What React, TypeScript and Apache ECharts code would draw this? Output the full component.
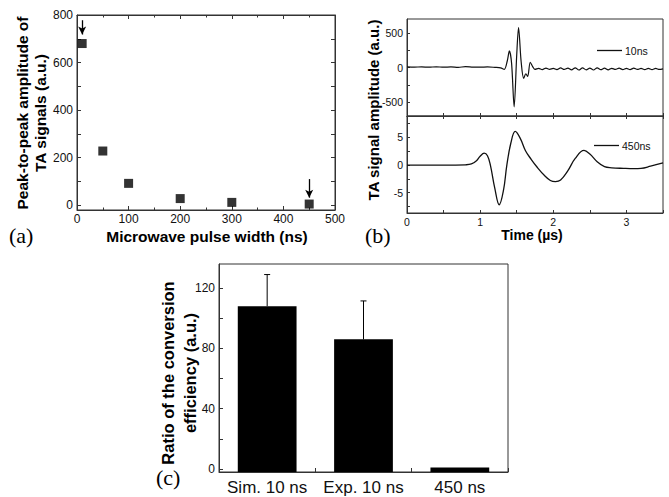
import React, { useEffect, useRef } from 'react';
import * as echarts from 'echarts';

// Panel (a)
const pulseWidths = [10, 50, 100, 200, 300, 450];
const peakAmplitudes = [680, 228, 92, 28, 12, 5];
const arrowX = [10, 450];
const arrowTop = [778, 110];
const arrowBottom = [718, 32];
const aXLabels = [0, 100, 200, 300, 400, 500];
const aYLabels = [0, 200, 400, 600, 800];
const aYTicks = [0, 100, 200, 300, 400, 500, 600, 700, 800];

// Panel (b)
const time10 = [
  0, 0.1, 0.2, 0.3, 0.4, 0.5, 0.6, 0.7, 0.8, 0.9, 1.0, 1.1, 1.2, 1.28, 1.33, 1.37, 1.4, 1.43, 1.465,
  1.5, 1.525, 1.56, 1.595, 1.625, 1.65, 1.685, 1.72, 1.75, 1.8, 1.85, 1.9, 1.95, 2.0, 2.05, 2.1, 2.15,
  2.2, 2.25, 2.3, 2.35, 2.4, 2.45, 2.5, 2.55, 2.6, 2.65, 2.7, 2.75, 2.8, 2.85, 2.9, 2.95, 3.0, 3.05,
  3.1, 3.15, 3.2, 3.25, 3.3, 3.35, 3.4, 3.45, 3.5,
];
const amp10 = [
  10, 6, 9, 4, 10, 5, 8, 3, 12, 6, 4, 8, 2, -5, -28, 90, 240, 60, -567,
  180, 576, 90, -157, -90, -130, 76, 10, -28, -12, -30, -8, -26, -14, -30, -6, -28,
  -8, -34, -4, -36, -6, -34, -8, -36, -4, -32, -10, -34, -12, -28, -10, -30, -14, -30,
  -10, -28, -14, -30, -12, -30, -14, -28, -20,
];
const time450 = [
  0, 0.5, 0.8, 0.88, 0.95, 1.0, 1.055, 1.1, 1.14, 1.2, 1.26, 1.32, 1.365, 1.42, 1.48, 1.55, 1.62, 1.7,
  1.78, 1.88, 1.96, 2.03, 2.1, 2.2, 2.3, 2.42, 2.5, 2.6, 2.7, 2.8, 2.96, 3.1, 3.2, 3.33, 3.5,
];
const amp450 = [
  0, 0, 0.05, 0.2, 0.8, 1.6, 2.15, 1.7, 0, -4.2, -7.2, -4.5, 0, 4.0, 6.1, 4.8, 2.6, 1.0,
  -0.4, -1.9, -2.8, -3.0, -2.7, -1.0, 1.2, 2.65, 2.0, 0.6, -0.3, -0.5, -0.6, -0.65, -0.6, -0.2, 0.4,
];
const bTopLabels = [-500, 0, 500];
const bTopTicks = [-500, -250, 0, 250, 500];
const bBotLabels = [-5, 0, 5];
const bBotTicks = [-7.5, -5, -2.5, 0, 2.5, 5, 7.5];

// Panel (c)
const categories = ['Sim. 10 ns', 'Exp. 10 ns', '450 ns'];
const ratios = [108, 86, 1];
const ratioErrors = [21, 25.5, 0];
const cYLabels = [0, 40, 80, 120];
const cYTicks = [0, 20, 40, 60, 80, 100, 120];

const SANS = '"Liberation Sans", Arial, Helvetica, sans-serif';
const SERIF = '"Liberation Serif", "Times New Roman", serif';
const INK = '#111';
const FRAME = '#333';

export default function App() {
  const ref = useRef<HTMLDivElement>(null);

  useEffect(() => {
    if (!ref.current) return;
    const chart = echarts.init(ref.current, undefined, { renderer: 'svg' });

    const lineStyle = { color: FRAME, width: 1 };
    const tickIn = (len: number, extra: any = {}) => ({ show: true, inside: true, length: len, lineStyle, ...extra });
    const valueX = (gridIndex: number, min: number, max: number, interval: number, position: string, labels: any, extra: any = {}) => ({
      type: 'value', gridIndex, min, max, interval, position,
      axisLine: { show: true, onZero: false, lineStyle },
      splitLine: { show: false },
      axisTick: tickIn(4),
      axisLabel: labels,
      ...extra,
    });

    const legendCommon = {
      padding: 0, itemWidth: 25, itemHeight: 1.3, itemGap: 0, icon: 'rect',
      itemStyle: { color: '#111' },
      textStyle: { fontSize: 10.5, color: INK, fontFamily: SANS, padding: [0, 0, 0, -2] },
    };

    const option: any = {
      animation: false,
      backgroundColor: '#fff',
      grid: [
        { left: 77, top: 15, width: 258, height: 195, show: true, borderColor: FRAME, borderWidth: 1 },
        { left: 407, top: 19, width: 256, height: 97, show: true, borderColor: FRAME, borderWidth: 1 },
        { left: 407, top: 116, width: 256, height: 97, show: true, borderColor: FRAME, borderWidth: 1 },
        { left: 219, top: 264, width: 289, height: 208, show: true, borderColor: FRAME, borderWidth: 1 },
      ],
      xAxis: [
        valueX(0, 0, 500, 100, 'bottom',
          { show: true, fontSize: 12, color: INK, fontFamily: SANS, margin: 3, customValues: aXLabels },
          { minorTick: { show: true, splitNumber: 2, length: 2.5, lineStyle } }),
        valueX(0, 0, 500, 100, 'top', { show: false },
          { minorTick: { show: true, splitNumber: 2, length: 2.5, lineStyle } }),
        valueX(1, 0, 3.5, 0.5, 'bottom', { show: false }, { axisTick: tickIn(3) }),
        valueX(2, 0, 3.5, 0.5, 'bottom',
          { show: true, fontSize: 10.5, color: INK, fontFamily: SANS, margin: 3,
            formatter: (v: number) => (Number.isInteger(v) && v < 3.5 ? String(v) : '') },
          { axisTick: tickIn(3) }),
        valueX(2, 0, 3.5, 0.5, 'top', { show: false }, { axisTick: tickIn(3) }),
        {
          type: 'category', gridIndex: 3, data: categories, position: 'bottom',
          axisLine: { show: true, onZero: false, lineStyle },
          axisTick: { show: true, inside: true, length: 4, alignWithLabel: false, lineStyle },
          axisLabel: { fontSize: 17, color: INK, fontFamily: SANS, margin: 7, interval: 0, hideOverlap: false },
          splitLine: { show: false },
        },
      ],
      yAxis: [
        {
          type: 'value', gridIndex: 0, min: -20, max: 800, position: 'left',
          axisLine: { show: true, onZero: false, lineStyle },
          splitLine: { show: false },
          axisTick: tickIn(4, { customValues: aYTicks }),
          axisLabel: { fontSize: 12, color: INK, fontFamily: SANS, margin: 4, customValues: aYLabels },
        },
        {
          type: 'value', gridIndex: 0, min: -20, max: 800, position: 'right',
          axisLine: { show: true, onZero: false, lineStyle },
          splitLine: { show: false },
          axisTick: tickIn(4, { customValues: aYTicks }),
          axisLabel: { show: false },
        },
        {
          type: 'value', gridIndex: 1, min: -700, max: 700, position: 'left',
          axisLine: { show: true, onZero: false, lineStyle },
          splitLine: { show: false },
          axisTick: tickIn(3, { customValues: bTopTicks }),
          axisLabel: { fontSize: 10.5, color: INK, fontFamily: SANS, margin: 4, customValues: bTopLabels },
        },
        {
          type: 'value', gridIndex: 2, min: -8.7, max: 8.9, position: 'left',
          axisLine: { show: true, onZero: false, lineStyle },
          splitLine: { show: false },
          axisTick: tickIn(3, { customValues: bBotTicks }),
          axisLabel: { fontSize: 10.5, color: INK, fontFamily: SANS, margin: 4, customValues: bBotLabels },
        },
        {
          type: 'value', gridIndex: 3, min: -2, max: 136, position: 'left',
          axisLine: { show: true, onZero: false, lineStyle },
          splitLine: { show: false },
          axisTick: tickIn(4, { customValues: cYTicks }),
          axisLabel: { fontSize: 12, color: INK, fontFamily: SANS, margin: 4, customValues: cYLabels },
        },
      ],
      legend: [
        { ...legendCommon, data: ['10ns'], left: 597, top: 45 },
        { ...legendCommon, data: ['450ns'], left: 594, top: 140 },
      ],
      series: [
        {
          type: 'scatter', xAxisIndex: 0, yAxisIndex: 0,
          symbol: 'rect', symbolSize: 9, itemStyle: { color: '#000' },
          data: pulseWidths.map((x, i) => [x, peakAmplitudes[i]]),
          markLine: {
            silent: true, symbol: ['none', 'arrow'], symbolSize: [6, 8],
            label: { show: false },
            lineStyle: { color: '#000', width: 1.3, type: 'solid' },
            data: arrowX.map((x, i) => [{ coord: [x, arrowTop[i]] }, { coord: [x, arrowBottom[i]] }]),
          },
        },
        {
          name: '10ns', type: 'line', xAxisIndex: 2, yAxisIndex: 2,
          symbol: 'none', showSymbol: false, smooth: 0.3,
          lineStyle: { color: '#111', width: 1.2 }, itemStyle: { color: '#111' },
          data: time10.map((t, i) => [t, amp10[i]]),
        },
        {
          name: '450ns', type: 'line', xAxisIndex: 3, yAxisIndex: 3,
          symbol: 'none', showSymbol: false, smooth: 0.4,
          lineStyle: { color: '#111', width: 1.3 }, itemStyle: { color: '#111' },
          data: time450.map((t, i) => [t, amp450[i]]),
        },
        {
          type: 'custom', xAxisIndex: 5, yAxisIndex: 4,
          encode: { x: 0, y: [1, 2] },
          data: categories.map((c, i) => [i, ratios[i], ratios[i] + ratioErrors[i]]),
          renderItem: (params: any, api: any) => {
            const idx = api.value(0);
            const v = api.value(1);
            const top = api.value(2);
            const p = api.coord([idx, v]);
            const pt = api.coord([idx, top]);
            const w = api.size([1, 0])[0] * 0.61;
            const cs = params.coordSys;
            const bottom = cs.y + cs.height;
            const children: any[] = [
              { type: 'rect', shape: { x: p[0] - w / 2, y: p[1], width: w, height: bottom - p[1] }, style: { fill: '#000' } },
            ];
            if (top > v) {
              children.push({ type: 'line', shape: { x1: p[0], y1: p[1], x2: pt[0], y2: pt[1] }, style: { stroke: '#000', lineWidth: 1 } });
              children.push({ type: 'line', shape: { x1: pt[0] - 3, y1: pt[1], x2: pt[0] + 3, y2: pt[1] }, style: { stroke: '#000', lineWidth: 1 } });
            }
            return { type: 'group', children };
          },
        },
      ],
      graphic: [
        { type: 'text', left: 9, top: 224, style: { text: '(a)', font: `22px ${SERIF}`, fill: '#000' } },
        { type: 'text', x: 207, y: 236, style: { text: 'Microwave pulse width (ns)', font: `bold 15.5px ${SANS}`, fill: '#000', textAlign: 'center', textVerticalAlign: 'middle' } },
        { type: 'text', x: 22, y: 113, rotation: Math.PI / 2, style: { text: 'Peak-to-peak amplitude of', font: `bold 15.5px ${SANS}`, fill: '#000', textAlign: 'center', textVerticalAlign: 'middle' } },
        { type: 'text', x: 40, y: 113, rotation: Math.PI / 2, style: { text: 'TA signals (a.u.)', font: `bold 15.5px ${SANS}`, fill: '#000', textAlign: 'center', textVerticalAlign: 'middle' } },
        { type: 'text', left: 365, top: 224, style: { text: '(b)', font: `22px ${SERIF}`, fill: '#000' } },
        { type: 'text', x: 532, y: 235, style: { text: 'Time (µs)', font: `bold 14px ${SANS}`, fill: '#000', textAlign: 'center', textVerticalAlign: 'middle' } },
        { type: 'text', x: 373, y: 110, rotation: Math.PI / 2, style: { text: 'TA signal amplitude (a.u.)', font: `bold 15px ${SANS}`, fill: '#000', textAlign: 'center', textVerticalAlign: 'middle' } },
        { type: 'text', x: 168, y: 373, rotation: Math.PI / 2, style: { text: 'Ratio of the conversion', font: `bold 16.5px ${SANS}`, fill: '#000', textAlign: 'center', textVerticalAlign: 'middle' } },
        { type: 'text', x: 190, y: 373, rotation: Math.PI / 2, style: { text: 'efficiency (a.u.)', font: `bold 16.5px ${SANS}`, fill: '#000', textAlign: 'center', textVerticalAlign: 'middle' } },
        { type: 'text', left: 156, top: 466, style: { text: '(c)', font: `22px ${SERIF}`, fill: '#000' } },
      ],
    };

    chart.setOption(option);
    return () => chart.dispose();
  }, []);

  return <div ref={ref} style={{ position: 'fixed', left: 0, top: 0, width: 669, height: 497 }} />;
}
